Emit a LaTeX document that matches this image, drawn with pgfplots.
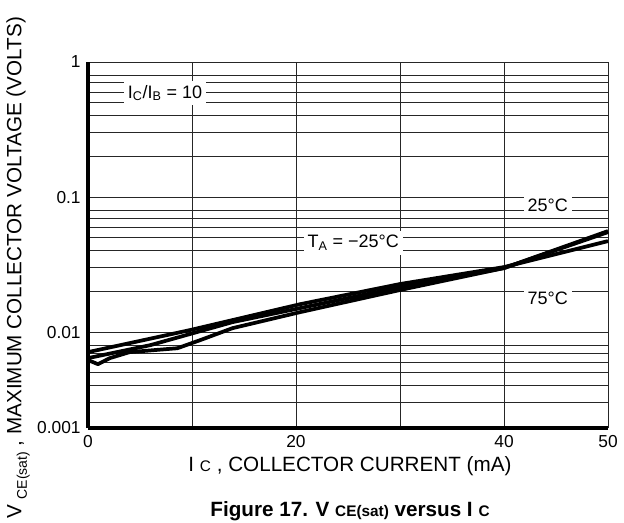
\documentclass[border=0pt]{standalone}
\usepackage{pgfplots}
\pgfplotsset{compat=1.18}
\usepackage{fontspec}
\setmainfont{Liberation Sans}
\begin{document}
\begin{tikzpicture}
\begin{axis}[
  name=ax, at={(0,0)}, anchor=south west,
  scale only axis, width=390pt, height=274.5pt,
  xmin=0, xmax=50, ymode=log, ymin=0.00195, ymax=1,
  axis x line*=bottom, axis y line*=left,
  axis line style={-, line width=2.6pt},
  xtick={0,10,20,30,40,50}, xticklabels={0,,20,,40,50},
  ytick={0.00195,0.01,0.1,1}, yticklabels={0.001,0.01,0.1,1},
  minor ytick={0.003,0.004,0.005,0.006,0.007,0.008,0.02,0.03,0.04,0.05,0.06,0.07,0.08,0.2,0.3,0.4,0.5,0.6,0.7,0.8},
  grid=both,
  major grid style={black!85, line width=0.65pt},
  minor grid style={black!85, line width=0.65pt},
  major tick length=0pt, minor tick length=0pt,
  tick label style={font=\fontsize{13}{15}\selectfont},
  yticklabel style={xshift=-2pt},
  xticklabel style={yshift=-2pt},
  /pgf/number format/assume math mode=true,
  clip=false,
]
\addplot[black, line width=2.8pt, line join=round] coordinates {
 (0,0.00711) (9.8,0.01035) (20.4,0.0161) (30,0.0227) (40,0.0303) (50,0.0472)};
\addplot[black, line width=2.8pt, line join=round] coordinates {
 (0,0.00621) (0.96,0.00579) (2.1,0.00642) (4.0,0.00711) (8.6,0.0076) (10.8,0.00873) (13.9,0.0107) (20.4,0.01406) (30,0.0205) (40,0.0298) (50,0.0560)};
\addplot[black, line width=2.8pt, line join=round] coordinates {
 (0,0.00642) (6.0,0.00801) (13.9,0.01186) (20.4,0.01506) (30,0.0215) (40,0.0298) (50,0.0550)};
\node[fill=white, inner sep=3pt, font=\fontsize{13.5}{15}\selectfont] at (axis cs:7.4,0.589) {I\textsubscript{C}/I\textsubscript{B} = 10};
\node[fill=white, inner sep=3pt, font=\fontsize{13.5}{15}\selectfont] at (axis cs:44.2,0.0873) {25°C};
\node[fill=white, inner sep=3pt, font=\fontsize{13.5}{15}\selectfont] at (axis cs:25.5,0.0456) {T\textsubscript{A} = −25°C};
\node[fill=white, inner sep=3pt, font=\fontsize{13.5}{15}\selectfont] at (axis cs:44.2,0.0179) {75°C};
\end{axis}
\node[font=\fontsize{15.5}{18}\selectfont] at (196.5pt,-28.5pt) {I {\fontsize{11.5}{13}\selectfont C} , COLLECTOR CURRENT (mA)};
\node[font=\fontsize{15.5}{18}\selectfont\bfseries] at (196.5pt,-62.5pt) {Figure 17. V {\fontsize{11.5}{13}\selectfont CE(sat)} versus I {\fontsize{11.5}{13}\selectfont C}};
\node[rotate=90, font=\fontsize{15.5}{18}\selectfont] at (-52.5pt,120pt) {V \raisebox{-0.5ex}{\fontsize{10.5}{12}\selectfont CE(sat)} , MAXIMUM COLLECTOR VOLTAGE (VOLTS)};
\pgfresetboundingbox
\path[use as bounding box] (-66pt,-70.5pt) rectangle (402pt,321pt);
\end{tikzpicture}
\end{document}
